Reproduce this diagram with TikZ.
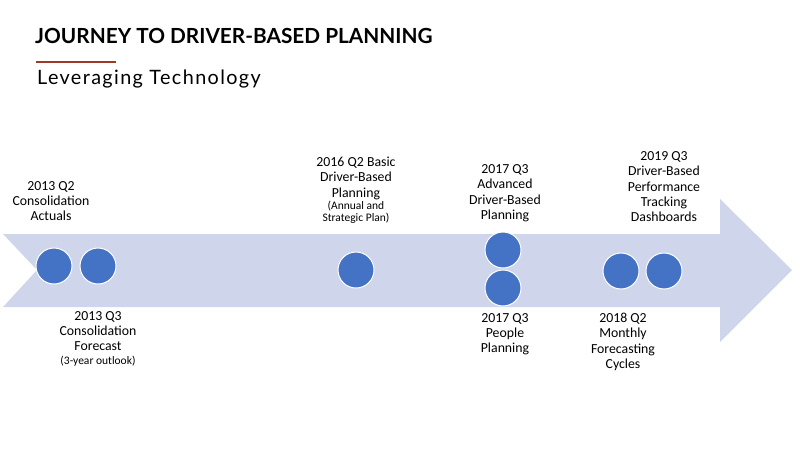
\documentclass[tikz,border=0pt]{standalone}
\usepackage{fontspec}
\setmainfont{Carlito}
\newfontfamily\headfont{Lato}
\newfontfamily\subheadfont[LetterSpace=7]{Lato}
\definecolor{arrowfill}{RGB}{207,213,234}
\definecolor{dotblue}{RGB}{68,114,196}
\definecolor{rulered}{RGB}{160,56,42}
\tikzset{
    milestone/.style={circle,fill=dotblue,draw=white,line width=1pt,minimum size=36pt,inner sep=0pt},
    lbl/.style={align=center,inner sep=0pt,font=\fontsize{13.8}{15.3}\selectfont},
}
\newcommand{\smalltxt}{\fontsize{11.5}{12}\selectfont}
\begin{document}
\begin{tikzpicture}[x=1pt,y=-1pt]
\useasboundingbox (0,0) rectangle (800,450);
% title
\node[anchor=base west,inner sep=0pt,font=\headfont\bfseries\fontsize{20.8}{24}\selectfont] (title) at (35,43) {JOURNEY TO DRIVER-BASED PLANNING};
\draw[rulered,line width=1.3pt] (36,62) -- (116,62);
\node[anchor=base west,inner sep=0pt,font=\subheadfont\fontsize{19.8}{24}\selectfont] (subtitle) at (37,84) {Leveraging Technology};

% big arrow
\fill[arrowfill] (3,234) -- (720,234) -- (720,199) -- (792,270) -- (720,342)
    -- (720,307) -- (3,307) -- (37,270) -- cycle;

% milestones
\node[milestone] (q2a) at (54,266) {};
\node[milestone] (q3a) at (98,266) {};
\node[milestone] (q2b) at (356,270) {};
\node[milestone] (q3b) at (503,250) {};
\node[milestone] (q3c) at (503,288) {};
\node[milestone] (q2c) at (621,271) {};
\node[milestone] (q3d) at (664,271) {};

% labels above
\node[lbl,anchor=south] (lq2a) at (51,221) {2013 Q2\\Consolidation\\Actuals};
\node[lbl,anchor=south] (lq2b) at (356,224) {2016 Q2 Basic\\Driver-Based\\Planning\\[-3pt]{\smalltxt(Annual and}\\[-3pt]{\smalltxt Strategic Plan)}};
\node[lbl,anchor=south] (lq3b) at (505,222) {2017 Q3\\Advanced\\Driver-Based\\Planning};
\node[lbl,anchor=south] (lq3d) at (664,222) {2019 Q3\\Driver-Based\\Performance\\Tracking\\Dashboards};

% labels below
\node[lbl,anchor=north] (lq3a) at (98,311) {2013 Q3\\Consolidation\\Forecast\\[-2pt]{\smalltxt(3-year outlook)}};
\node[lbl,anchor=north] (lq3c) at (505,313) {2017 Q3\\People\\Planning};
\node[lbl,anchor=north] (lq2c) at (623,313) {2018 Q2\\Monthly\\Forecasting\\Cycles};
\end{tikzpicture}
\end{document}
